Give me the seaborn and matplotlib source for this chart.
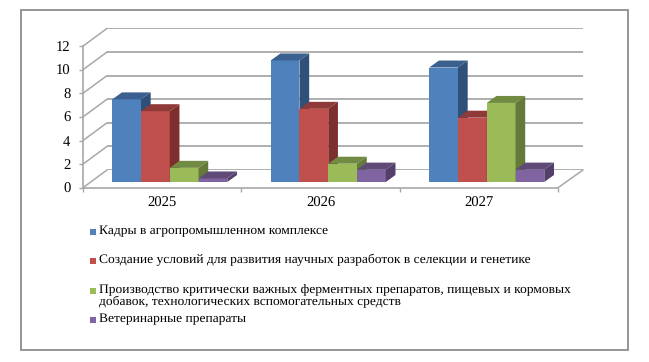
import matplotlib
matplotlib.use("Agg")
import pandas as pd
import seaborn as sns
import matplotlib.pyplot as plt
from matplotlib.lines import Line2D
from matplotlib.patches import Polygon, Rectangle
from matplotlib.transforms import IdentityTransform

# данные
years = ["2025", "2026", "2027"]
kadry = [7, 10.3, 9.7]
sozdanie = [6, 6.2, 5.45]
proizvodstvo = [1.2, 1.55, 6.7]
veterinar = [0.3, 1.05, 1.05]

legend_labels = [
    "Кадры в агропромышленном комплексе",
    "Создание условий для развития научных разработок в селекции и генетике",
    "Производство критически важных ферментных препаратов, пищевых и кормовых\nдобавок, технологических вспомогательных средств",
    "Ветеринарные препараты",
]
legend_y = [232, 261, 290.5, 320]

front_colors = ["#4F81BD", "#C0504D", "#9BBB59", "#8064A2"]
top_colors = ["#3A6090", "#8F3A38", "#728B42", "#5F4A78"]
side_colors = ["#2F5078", "#7D2F2D", "#64793A", "#533F6A"]

W, H = 649, 362
GRID = "#A8A8A8"

sns.set_theme(style="white")
plt.rcParams["font.family"] = ["Liberation Serif", "DejaVu Serif"]
plt.rcParams["text.hinting"] = "no_hinting"

fig = plt.figure(figsize=(W / 100, H / 100), dpi=100)


def add_axes_px(left, right, y0):
    # y0 - пиксель значения 0, 12 единиц = 141.6 px
    return fig.add_axes([left / W, 1 - y0 / H, (right - left) / W, 141.6 / H])


def px_line(x, y, color=GRID, lw=1.1, **kw):
    fig.add_artist(Line2D([v / W for v in x], [1 - v / H for v in y], color=color, lw=lw, **kw))


# задняя стенка, сетка
ax_back = add_axes_px(107, 583, 170)
ax_back.set_xlim(0, 1)
ax_back.set_ylim(0, 12)
ax_back.set_yticks(range(0, 13, 2))
ax_back.set_xticks([])
ax_back.set_yticklabels([])
ax_back.tick_params(length=0)
ax_back.grid(axis="y", color=GRID, lw=1.3)
for s in ax_back.spines.values():
    s.set_visible(False)
ax_back.patch.set_alpha(0)

# передняя ось
ax_front = add_axes_px(83, 558, 187.7)
ax_front.set_xlim(-0.5, 2.5)
ax_front.set_ylim(0, 12)
ax_front.patch.set_alpha(0)
ax_front.set_yticks(range(0, 13, 2))
ax_front.set_xticks([-0.5, 0.5, 1.5, 2.5])
ax_front.set_xticklabels([])
ax_front.tick_params(axis="both", length=3, width=1, color=GRID, labelsize=10.5, labelcolor="black")
ax_front.tick_params(axis="y", left=True, pad=6)
ax_front.tick_params(axis="x", bottom=True)
for i, y in enumerate(years):
    ax_front.text(i, -1.32, y, ha="center", va="center", fontsize=10.5, color="black")
sns.despine(ax=ax_front)
for name in ["left", "bottom"]:
    ax_front.spines[name].set_color(GRID)
    ax_front.spines[name].set_linewidth(1.2)

# боковая стенка и пол
for v in range(0, 13, 2):
    px_line([83, 107], [187.7 - v * 11.8, 170 - v * 11.8], lw=1.1)
px_line([558, 583], [187.7, 170], lw=1.1)

# столбцы
ax = add_axes_px(90.5, 566, 182)
ax.patch.set_alpha(0)
df = pd.DataFrame({
    "year": years * 4,
    "value": kadry + sozdanie + proizvodstvo + veterinar,
    "series": [s for s in legend_labels for _ in years],
})
sns.barplot(data=df, x="year", y="value", hue="series", palette=front_colors,
            width=0.726, gap=0, saturation=1, legend=False, linewidth=0, ax=ax)
ax.set_xlim(-0.5, 2.5)
ax.set_ylim(0, 12)
ax.axis("off")
fig.canvas.draw()

DX, DY = 9.7, 7.0  # глубина столбца, px
n_years = len(years)
for i, bar in enumerate(ax.patches[:n_years * 4]):
    s = i // n_years
    (x0, y0), (x1, y1) = ax.transData.transform(bar.get_bbox().get_points())
    bar.set_zorder(3 + s)
    top = Polygon([(x0, y1), (x1, y1), (x1 + DX, y1 + DY), (x0 + DX, y1 + DY)],
                  closed=True, fc=top_colors[s], ec="none",
                  transform=IdentityTransform(), zorder=3 + s)
    side = Polygon([(x1, y0), (x1 + DX, y0 + DY), (x1 + DX, y1 + DY), (x1, y1)],
                   closed=True, fc=side_colors[s], ec="none",
                   transform=IdentityTransform(), zorder=3 + s)
    ax.add_artist(top)
    ax.add_artist(side)

# легенда
for lab, y, c in zip(legend_labels, legend_y, front_colors):
    fig.add_artist(Rectangle((89.5 / W, 1 - (y + 3) / H), 6 / W, 6 / H, fc=c, ec="none",
                             transform=fig.transFigure))
    fig.text(99 / W, 1 - (y - 7) / H, lab, ha="left", va="top", fontsize=9.7,
             color="black", linespacing=1.08)

# рамка
fig.add_artist(Rectangle((20.5 / W, 1 - 350 / H), 607.5 / W, 340 / H, fc="none",
                         ec="#8C8C8C", lw=1.3, transform=fig.transFigure))

fig.savefig("out.png", dpi=100)
